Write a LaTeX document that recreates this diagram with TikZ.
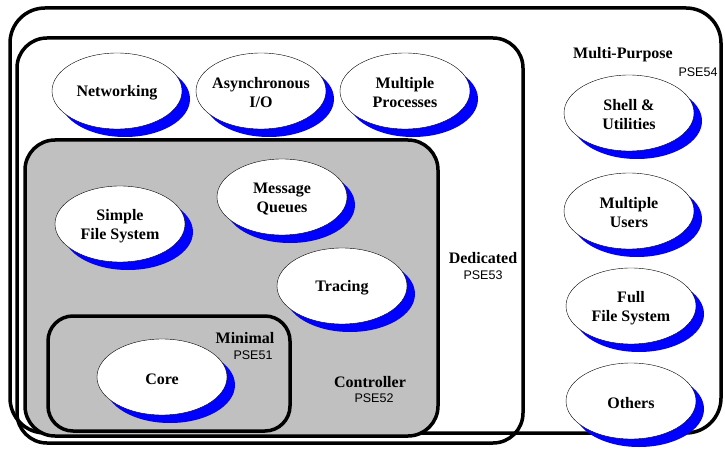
\documentclass[tikz,border=0pt]{standalone}
\usepackage{fontspec}
\setmainfont{Liberation Serif}
\newfontfamily\psefont{Liberation Sans}
\usepackage{tikz}
\usetikzlibrary{shapes.geometric,shadows,positioning}

\definecolor{ctrlgray}{RGB}{192,192,192}

\begin{document}
\begin{tikzpicture}[x=1pt, y=-1pt,
    box/.style={line width=3.5pt, rounded corners=#1},
    feature/.style={ellipse, draw, thin, fill=white, minimum width=130pt, minimum height=76pt,
        general shadow={fill=blue, shadow xshift=8pt, shadow yshift=-8pt},
        label={[ftext, yshift=-2pt]center:#1}},
    ftext/.style={font=\fontsize{16}{19}\selectfont\bfseries, align=center},
    pse/.style={font=\fontsize{12.5}{14}\selectfont\psefont}]
    \useasboundingbox (0,0) rectangle (725,449);

    % Profiles
    \draw[box=35pt] (10,8) rectangle (721,433);
    \draw[box=30pt] (17,38) rectangle (523,443);
    \draw[box=30pt, fill=ctrlgray] (25,140) rectangle (438,436);
    \draw[box=25pt] (48,316) rectangle (290,431);

    % Profile names
    \node[ftext] (multi) at (623,55) {Multi-Purpose};
    \node[pse] (pse54) at (698,72) {PSE54};
    \node[ftext] (dedic) at (483,258) {Dedicated};
    \node[pse, below=0pt of dedic] (pse53) {PSE53};
    \node[ftext] (ctrl) at (370,382) {Controller};
    \node[pse] (pse52) at (374,398) {PSE52};
    \node[ftext] (minim) at (245,338) {Minimal};
    \node[pse] (pse51) at (253,355) {PSE51};

    % Dedicated
    \node[feature={Networking}] (net) at (117,91) {};
    \node[feature={Asynchronous\\I/O}] (async) at (261,91) {};
    \node[feature={Multiple\\Processes}] (mproc) at (405,91) {};

    % Controller
    \node[feature={Message\\Queues}] (msgq) at (282,197) {};
    \node[feature={Simple\\File System}] (sfs) at (120,224) {};
    \node[feature={Tracing}] (trace) at (342,286) {};

    % Minimal
    \node[feature={Core}] (core) at (162,377) {};

    % Multi-Purpose
    \node[feature={Shell \&\\Utilities}] (shell) at (629,113) {};
    \node[feature={Multiple\\Users}] (users) at (629,211) {};
    \node[feature={Full\\File System}] (ffs) at (631,306) {};
    \node[feature={Others}] (others) at (631,401) {};
\end{tikzpicture}
\end{document}
